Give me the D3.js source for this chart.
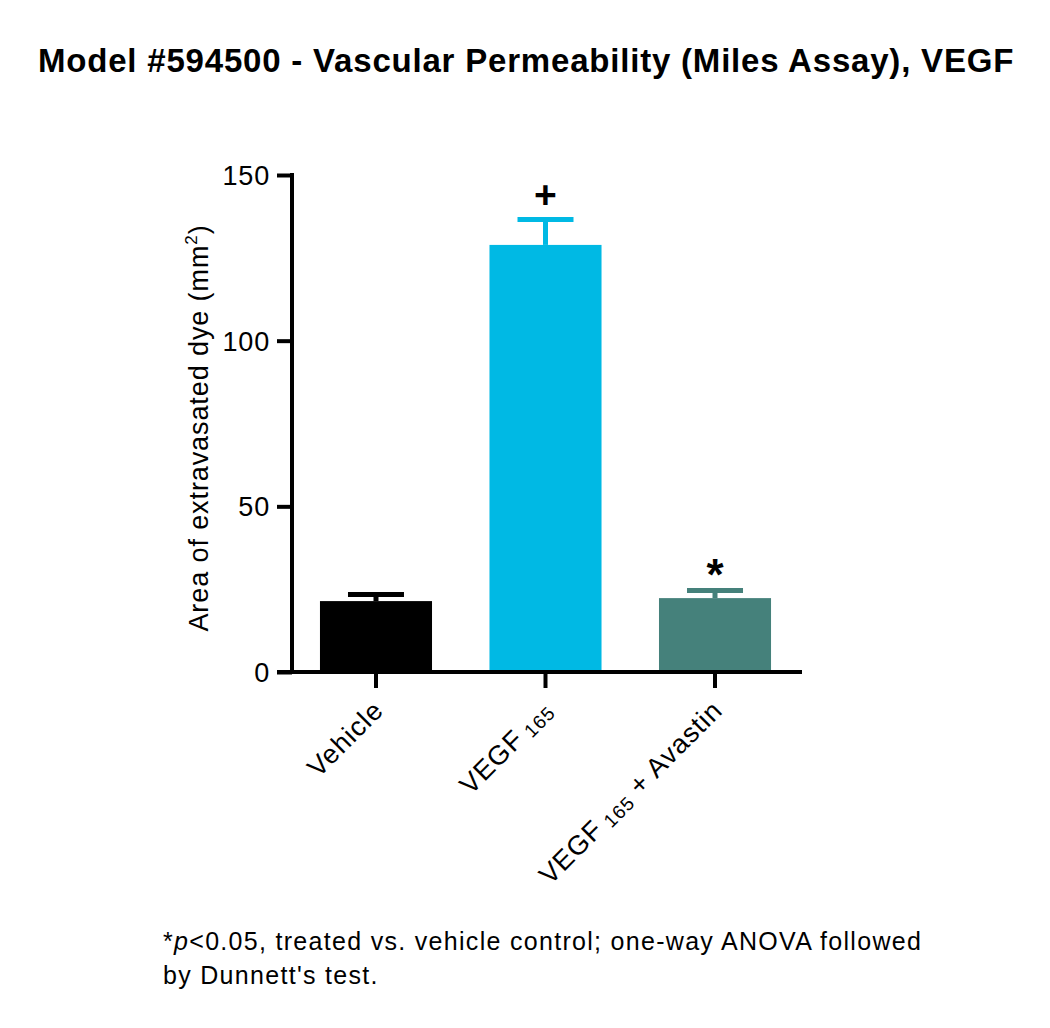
<!DOCTYPE html>
<html>
<head>
<meta charset="utf-8">
<script src="https://cdn.jsdelivr.net/npm/d3@7"></script>
<style>
  body { margin: 0; background: #fff; }
  text { font-family: "Liberation Sans", Arial, sans-serif; fill: #000; }
</style>
</head>
<body>
<div id="chart"></div>
<script>
(function () {

  // data
  var groups = ["Vehicle", "VEGF165", "VEGF165 + Avastin"],
    means = [21.4, 128.9, 22.3],
    errors = [2.0, 7.7, 2.3],
    marks = ["", "+", "*"],
    colors = ["#000000", "#00b9e4", "#45817b"],
    yTicks = [0, 50, 100, 150];

  var w = 1050,
    h = 1028,
    x0 = 292, x1 = 799,
    yTop = 175, yBottom = 672,
    svg, x, y;

  function createSvg() {
    svg = d3.select("#chart")
      .append("svg")
      .attr("width", w)
      .attr("height", h);
  }

  function getScales() {
    x = d3.scaleBand()
      .domain(groups)
      .range([x0, x1])
      .paddingInner(0.339)
      .paddingOuter(0.165);
    y = d3.scaleLinear()
      .domain([0, 150])
      .range([yBottom, yTop]);
  }

  function drawTitle() {
    svg.append("text")
      .attr("x", 38)
      .attr("y", 72)
      .style("font-size", "33px")
      .style("font-weight", "bold")
      .style("letter-spacing", "0.8px")
      .text("Model #594500 - Vascular Permeability (Miles Assay), VEGF");
  }

  function drawBars() {
    var g = svg.append("g");
    g.selectAll(".bar")
      .data(groups).enter()
      .append("rect")
        .attr("class", "bar")
        .attr("x", function(d) { return x(d); })
        .attr("width", x.bandwidth())
        .attr("y", function(d, i) { return y(means[i]); })
        .attr("height", function(d, i) { return y(0) - y(means[i]); })
        .attr("fill", function(d, i) { return colors[i]; });

    // error bars (upper only)
    var capW = 56;
    g.selectAll(".errStem")
      .data(groups).enter()
      .append("line")
        .attr("x1", function(d) { return x(d) + x.bandwidth() / 2; })
        .attr("x2", function(d) { return x(d) + x.bandwidth() / 2; })
        .attr("y1", function(d, i) { return y(means[i]); })
        .attr("y2", function(d, i) { return y(means[i] + errors[i]); })
        .attr("stroke", function(d, i) { return colors[i]; })
        .attr("stroke-width", 5);
    g.selectAll(".errCap")
      .data(groups).enter()
      .append("line")
        .attr("x1", function(d) { return x(d) + x.bandwidth() / 2 - capW / 2; })
        .attr("x2", function(d) { return x(d) + x.bandwidth() / 2 + capW / 2; })
        .attr("y1", function(d, i) { return y(means[i] + errors[i]); })
        .attr("y2", function(d, i) { return y(means[i] + errors[i]); })
        .attr("stroke", function(d, i) { return colors[i]; })
        .attr("stroke-width", 5);

    // significance marks
    g.selectAll(".mark")
      .data(groups).enter()
      .append("text")
        .attr("x", function(d) { return x(d) + x.bandwidth() / 2; })
        .attr("y", function(d, i) { return y(means[i] + errors[i]) - (marks[i] === "*" ? 0 : 11); })
        .attr("text-anchor", "middle")
        .style("font-size", function(d, i) { return marks[i] === "*" ? "44px" : "39px"; })
        .style("font-weight", "bold")
        .text(function(d, i) { return marks[i]; });
  }

  function drawAxes() {
    var yAxis = svg.append("g")
      .attr("transform", "translate(" + x0 + ",0)")
      .call(d3.axisLeft(y).tickValues(yTicks).tickSize(15).tickPadding(7));
    yAxis.select(".domain").remove();
    yAxis.selectAll(".tick line").attr("stroke-width", 4);
    yAxis.selectAll(".tick text")
      .style("font-size", "27px")
      .style("letter-spacing", "0.8px")
      .attr("dy", "0.35em");
    // vertical axis line
    svg.append("line")
      .attr("x1", x0).attr("x2", x0)
      .attr("y1", yTop - 2).attr("y2", yBottom)
      .attr("stroke", "#000").attr("stroke-width", 4);

    // horizontal axis line (starts at tick tip, GraphPad style)
    svg.append("line")
      .attr("x1", x0 - 15).attr("x2", x1 + 3)
      .attr("y1", yBottom).attr("y2", yBottom)
      .attr("stroke", "#000").attr("stroke-width", 4);

    var xAxis = svg.append("g")
      .attr("transform", "translate(0," + yBottom + ")")
      .call(d3.axisBottom(x).tickSize(16).tickFormat(""));
    xAxis.select(".domain").remove();
    xAxis.selectAll(".tick line").attr("stroke-width", 4);

    // rotated category labels with small "165"
    var labels = svg.append("g").selectAll(".xlab")
      .data(groups).enter()
      .append("text")
        .attr("class", "xlab")
        .attr("text-anchor", "end")
        .attr("transform", function(d) {
          return "translate(" + (x(d) + x.bandwidth() / 2 + 9) + "," + (yBottom + 40) + ") rotate(-45)";
        })
        .style("font-size", "27px")
        .style("letter-spacing", "1px");
    labels.each(function(d) {
      var t = d3.select(this);
      if (d.indexOf("VEGF165") === 0) {
        t.append("tspan").text("VEGF");
        t.append("tspan").text(" 165").style("font-size", "19px").attr("dy", 3);
        if (d.length > 7) t.append("tspan").text(" + Avastin").attr("dy", -3);
      } else {
        t.text(d);
      }
    });

    // y axis title
    var yl = svg.append("text")
      .attr("text-anchor", "middle")
      .attr("transform", "translate(208,428) rotate(-90)")
      .style("font-size", "27px")
      .style("letter-spacing", "0.9px");
    yl.append("tspan").text("Area of extravasated dye (mm");
    yl.append("tspan").text("2").style("font-size", "17px").attr("dy", -11);
    yl.append("tspan").text(")").attr("dy", 11);
  }

  function drawFootnote() {
    var f = svg.append("g").style("font-size", "25px").style("letter-spacing", "1.3px");
    var l1 = f.append("text").attr("x", 163).attr("y", 950);
    l1.append("tspan").text("*");
    l1.append("tspan").text("p").style("font-style", "italic");
    l1.append("tspan").text("<0.05, treated vs. vehicle control; one-way ANOVA followed");
    f.append("text").attr("x", 163).attr("y", 984).text("by Dunnett's test.");
  }

  createSvg();
  getScales();
  drawTitle();
  drawBars();
  drawAxes();
  drawFootnote();
})();
</script>
</body>
</html>
